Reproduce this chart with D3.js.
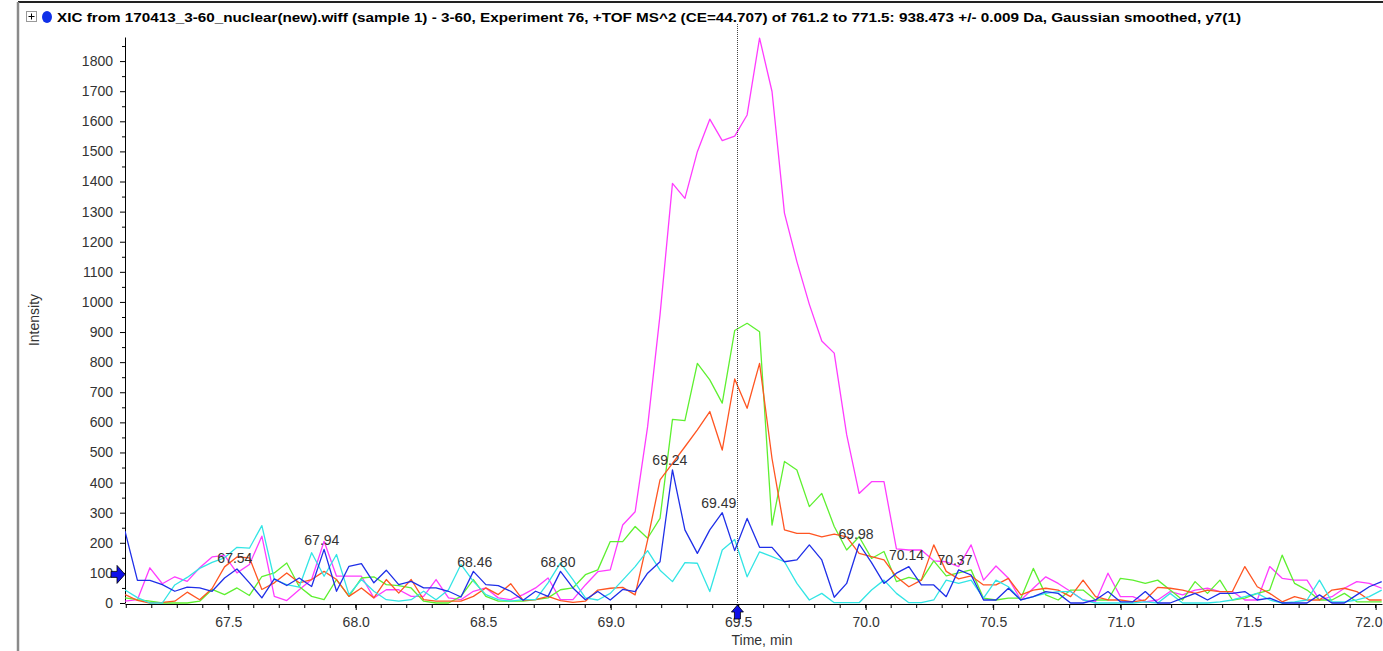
<!DOCTYPE html>
<html lang="en">
<head>
    <meta charset="UTF-8">
    <title>XIC</title>
    <style>
        body{ margin:0; background:#fff; }
        text{ font-family:"Liberation Sans", Arial, sans-serif; fill:#333; }
        .axis text{ font-size:14px; }
        .trace{ fill:none; stroke-width:1.3px; stroke-linejoin:round; }
    </style>
    <script src="https://d3js.org/d3.v7.min.js"></script>
</head>
<body>
    <div class="canvas"></div>
    <script>
    // scan grid (min)
    const startTime = 67.095;
    const scanStep = 0.0488;

    const magentaSeries = [6,11,117,64,87,72,117,153,158,100, 128,222,22,8,44,78,205,89,89,89,
        17,44,44,22,22,78,17,11,39,50, 17,11,28,50,83,11,11,60,104,110,
        259,303,585,957,1394,1344,1499,1607,1536,1551, 1621,1876,1699,1295,1134,992,870,830,559,364,
        403,403,180,176,176,140,137,121,193,76, 123,82,10,49,87,65,38,10,4,99,
        21,21,4,10,38,27,43,49,38,38, 10,10,121,82,76,76,10,21,49,71, 65,49];
    const greenSeries = [17,11,6,0,0,0,6,45,28,50, 25,88,100,133,55,22,11,78,22,83,
        87,61,58,50,6,0,0,22,78,22, 6,6,6,11,17,44,50,94,110,204,
        204,254,215,281,610,606,796,741,664,905, 929,901,259,470,442,320,364,254,176,220,
        148,171,71,85,75,140,90,100,110,16, 10,16,16,115,27,10,43,43,10,10,
        82,76,65,76,43,10,71,32,76,10, 16,32,43,159,65,43,10,10,32,4, 4,4];
    const orangeSeries = [28,9,0,2,6,36,11,48,120,153, 150,45,67,100,67,78,105,78,22,50,
        17,78,33,78,11,6,6,6,22,50, 28,64,9,11,22,8,2,6,43,49,
        52,27,209,409,464,519,575,636,508,744, 647,796,480,243,231,231,220,229,220,165,
        154,143,87,54,76,193,105,80,90,60, 60,82,27,43,49,43,21,76,21,10,
        10,4,10,52,49,43,32,43,38,38, 121,54,32,4,21,10,10,43,49,38, 10,10];
    const cyanSeries = [43,18,0,0,60,85,115,135,150,185, 182,257,78,61,53,167,89,161,28,78,
        39,11,6,11,39,11,44,128,72,28, 11,6,11,11,67,133,78,17,10,32,
        76,121,174,109,71,134,132,38,176,211, 87,170,154,137,65,10,32,1,1,1,
        43,76,32,1,1,10,76,65,76,16, 76,54,10,21,32,38,38,10,0,0,
        0,0,4,0,32,0,0,0,4,10, 21,32,10,0,4,10,76,4,4,10, 21,43];
    const blueSeries = [239,75,75,61,39,53,50,39,83,113, 67,17,80,58,83,55,178,39,122,131,
        67,109,61,72,50,50,39,20,105,61, 58,39,9,39,22,105,50,11,38,10,
        45,38,99,137,442,243,165,243,300,174, 281,185,185,137,143,193,143,19,65,196,
        134,65,99,121,60,60,21,110,93,10, 10,49,10,21,38,32,0,0,10,38,
        4,4,38,0,0,16,32,10,32,32, 38,10,16,0,0,0,27,0,0,27, 54,71];

    const seriesColors = ['#ff3cff','#5ef030','#ff5522','#33e5e5','#1f2fe8'];

    // apex labels: text, where they sit (min), height (intensity)
    const peakLabels = ['67.54','67.94','68.46','68.80','69.24','69.49','69.98','70.14','70.37'];
    const peakLabelTimes = [67.526,67.867,68.467,68.793,69.232,69.424,69.962,70.16,70.35];
    const peakLabelHeights = [133,193,120,120,458,316,213,143,126];

    const yTicks = d3.range(0, 1801, 100);
    const xTicks = [67.5,68.0,68.5,69.0,69.5,70.0,70.5,71.0,71.5,72.0];
    const cursorTime = 69.497;
    const cursorIntensity = 95;

    const title = 'XIC from 170413_3-60_nuclear(new).wiff (sample 1) - 3-60, Experiment 76, +TOF MS^2 (CE=44.707) of 761.2 to 771.5: 938.473 +/- 0.009 Da, Gaussian smoothed, y7(1)';

    const W = 1383, H = 651;
    const svg = d3.select('.canvas').append('svg')
        .attr('width', W).attr('height', H);

    const x = d3.scaleLinear().domain([67.095, 72.025]).range([125, 1382]);
    const y = d3.scaleLinear().domain([0, 1880]).range([603, 37]);

    // frame
    svg.append('line').attr('x1',18).attr('x2',W).attr('y1',2).attr('y2',2)
        .attr('stroke','#222').attr('stroke-width',2);
    svg.append('line').attr('x1',18).attr('x2',18).attr('y1',2).attr('y2',H)
        .attr('stroke','#8a8a8a').attr('stroke-width',2.5);

    // title row
    svg.append('rect').attr('x',26.5).attr('y',11.5).attr('width',10).attr('height',10)
        .attr('fill','#fff').attr('stroke','#999');
    svg.append('path').attr('d','M28.5,16.5h6M31.5,13.5v6').attr('stroke','#000').attr('stroke-width',1);
    svg.append('ellipse').attr('cx',47).attr('cy',17).attr('rx',5).attr('ry',6)
        .attr('fill','#1030e8');
    svg.append('text').attr('x',57).attr('y',22)
        .attr('textLength',1184).attr('lengthAdjust','spacingAndGlyphs')
        .style('font-family','"Liberation Sans Narrow","Arial Narrow","Liberation Sans",sans-serif')
        .style('font-weight','bold').style('font-size','13px').style('fill','#000')
        .text(title);

    // axes
    const gy = svg.append('g').attr('class','axis').attr('transform','translate(125,0)')
        .call(d3.axisLeft(y).tickValues(yTicks).tickSize(5).tickSizeOuter(0).tickPadding(7).tickFormat(d3.format('d')));
    gy.selectAll('g.minor').data(d3.range(50, 1880, 100)).enter().append('line')
        .attr('x1',-3).attr('x2',0).attr('y1',d=>y(d)+0.5).attr('y2',d=>y(d)+0.5).attr('stroke','#000');

    const gx = svg.append('g').attr('class','axis').attr('transform','translate(0,604)')
        .call(d3.axisBottom(x).tickValues(xTicks).tickSize(6).tickSizeOuter(0).tickPadding(7).tickFormat(d3.format('.1f')));
    gx.selectAll('g.minor').data(d3.range(67.1, 72.05, 0.1)).enter().append('line')
        .attr('x1',d=>x(d)).attr('x2',d=>x(d)).attr('y1',0).attr('y2',4).attr('stroke','#000');
    // keep the last label inside the window
    gx.selectAll('.tick text').filter(d => d === xTicks[xTicks.length-1])
        .attr('text-anchor','end').attr('x', W - x(xTicks[xTicks.length-1]) - 1);
    svg.selectAll('.axis .domain').attr('stroke','#000');

    svg.append('text').attr('transform','translate(39,320) rotate(-90)')
        .attr('text-anchor','middle').style('font-size','14px').text('Intensity');
    svg.append('text').attr('x',762).attr('y',645).attr('text-anchor','middle')
        .style('font-size','14px').text('Time, min');

    // traces
    svg.append('clipPath').attr('id','plot').append('rect')
        .attr('x',125).attr('y',0).attr('width',W-125).attr('height',604);
    const line = d3.line()
        .x((d,i) => x(startTime + i*scanStep))
        .y(d => y(d));
    const allSeries = [magentaSeries, greenSeries, orangeSeries, cyanSeries, blueSeries];
    svg.append('g').attr('clip-path','url(#plot)')
        .selectAll('path').data(allSeries).enter().append('path')
        .attr('class','trace')
        .attr('stroke',(d,i) => seriesColors[i])
        .attr('d', line);

    // cursor
    svg.append('line').attr('x1',Math.round(x(cursorTime))+0.5).attr('x2',Math.round(x(cursorTime))+0.5)
        .attr('y1',24).attr('y2',604)
        .attr('stroke','#444').attr('stroke-dasharray','1,1');

    // peak labels
    svg.selectAll('text.peak').data(peakLabels).enter().append('text')
        .attr('class','peak')
        .attr('x',(d,i) => x(peakLabelTimes[i]))
        .attr('y',(d,i) => y(peakLabelHeights[i]))
        .attr('text-anchor','middle').style('font-size','14px')
        .text(d => d);

    // markers
    const ay = y(cursorIntensity);
    svg.append('path')
        .attr('d',`M111,${ay-3}h6v-6l8,9l-8,9v-6h-6z`)
        .attr('fill','#1010e8').attr('stroke','#000').attr('stroke-width',0.8);
    const ax = x(cursorTime);
    svg.append('path')
        .attr('d',`M${ax},605l6,7h-3v7h-6v-7h-3z`)
        .attr('fill','#1010e8').attr('stroke','#000').attr('stroke-width',0.8);
    </script>
</body>
</html>
